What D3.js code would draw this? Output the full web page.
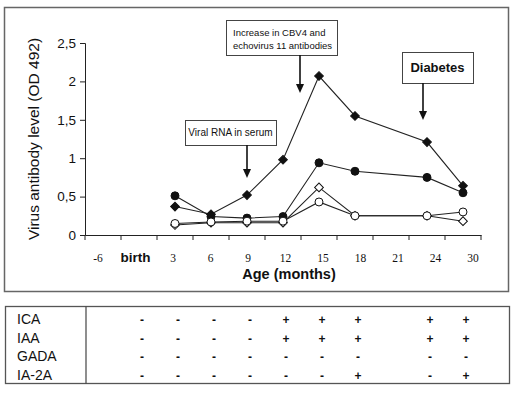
<!DOCTYPE html>
<html><head><meta charset="utf-8">
<script src="https://cdn.jsdelivr.net/npm/d3@7/dist/d3.min.js"></script>
<style>body{margin:0;background:#fff}svg{display:block}</style>
</head><body>
<svg id="c" width="515" height="399"></svg>
<script>
const categories = ["-6","birth","3","6","9","12","15","18","21","24","30"];
const sampleAges = ["3","6","9","12","15","18","24","30"];
const filledDiamond = [0.37,0.27,0.52,0.98,2.07,1.55,1.21,0.64];
const filledCircle  = [0.51,0.24,0.22,0.24,0.94,0.83,0.75,0.55];
const openDiamond   = [0.13,0.16,0.16,0.16,0.62,0.25,0.25,0.18];
const openCircle    = [0.15,0.17,0.18,0.18,0.43,0.25,0.25,0.30];
const yTicks = [0,0.5,1,1.5,2,2.5];
const tableAges = ["birth","3","6","9","12","15","18","24","30"];
const tableRows = ["ICA","IAA","GADA","IA-2A"];
const ICA   = ["-","-","-","-","+","+","+","+","+"];
const IAA   = ["-","-","-","-","+","+","+","+","+"];
const GADA  = ["-","-","-","-","-","-","-","-","-"];
const IA2A  = ["-","-","-","-","-","-","+","-","+"];
const annotations = [
  {age:"9", lines:["Viral RNA in serum"]},
  {age:"15", lines:["Increase in CBV4 and","echovirus 11 antibodies"]},
  {age:"24", lines:["Diabetes"]}
];

const svg = d3.select("#c");
const x = d3.scaleBand().domain(categories).range([85,481]);
const xl = d3.scalePoint().domain(categories).range([98,473]);
const y = d3.scaleLinear().domain([0,2.5]).range([235,43]);
const cx = a => x(a) + x.bandwidth()/2;

// frames
svg.append("rect").attr("x",4.5).attr("y",7.5).attr("width",504).attr("height",284)
  .attr("fill","none").attr("stroke","#666").attr("stroke-width",1.5);
svg.append("rect").attr("x",5.5).attr("y",306.5).attr("width",504).attr("height",77)
  .attr("fill","none").attr("stroke","#555").attr("stroke-width",1.3);
svg.append("line").attr("x1",86).attr("x2",86).attr("y1",306.5).attr("y2",383.5)
  .attr("stroke","#444").attr("stroke-width",1.2);

// y axis
const ya = svg.append("g").attr("transform","translate(85,0)")
  .call(d3.axisLeft(y).tickValues(yTicks).tickSize(5).tickPadding(4)
    .tickFormat(d => String(d).replace(".",",")));
ya.select(".domain").attr("stroke","#222");
ya.selectAll(".tick line").attr("stroke","#222");
ya.selectAll("text").attr("font-family","Liberation Sans, Arial, sans-serif")
  .attr("font-size",13.5).attr("fill","#111");

// x axis
const xa = svg.append("g").attr("transform","translate(0,235)")
  .call(d3.axisBottom(x).tickValues([]).tickSizeOuter(0));
xa.select(".domain").attr("stroke","#222");
svg.append("g").selectAll("line").data(categories.concat(["_end"]))
  .join("line")
  .attr("x1",(d,i)=> i<categories.length ? x(d) : x.range()[1])
  .attr("x2",(d,i)=> i<categories.length ? x(d) : x.range()[1])
  .attr("y1",235).attr("y2",240).attr("stroke","#222");
svg.append("g").selectAll("text").data(categories).join("text")
  .attr("x",d=>xl(d)).attr("y",262).attr("text-anchor","middle")
  .attr("font-family",d=> d==="birth" ? "Liberation Sans, Arial, sans-serif" : "Liberation Serif, Times New Roman, serif")
  .attr("font-weight",d=> d==="birth" ? "bold" : "normal")
  .attr("font-size",d=> d==="birth" ? 13.5 : 11.5)
  .attr("fill","#111").text(d=>d);

// titles
svg.append("text").attr("transform","translate(39,139) rotate(-90)")
  .attr("text-anchor","middle").attr("font-family","Liberation Sans, Arial, sans-serif")
  .attr("font-size",15.5).attr("fill","#111").text("Virus antibody level (OD 492)");
svg.append("text").attr("x",289).attr("y",279).attr("text-anchor","middle")
  .attr("font-family","Liberation Sans, Arial, sans-serif").attr("font-weight","bold")
  .attr("font-size",14.5).attr("fill","#111").text("Age (months)");

// series
const series = [
  {vals:filledDiamond, shape:"diamond", fill:"#111"},
  {vals:filledCircle, shape:"circle", fill:"#111"},
  {vals:openDiamond, shape:"diamond", fill:"#fff"},
  {vals:openCircle, shape:"circle", fill:"#fff"}
];
const line = d3.line().x((d,i)=>cx(sampleAges[i])).y(d=>y(d));
series.forEach(s=>{
  svg.append("path").attr("d",line(s.vals)).attr("fill","none")
    .attr("stroke","#222").attr("stroke-width",1.1);
});
series.forEach(s=>{
  const sym = s.shape==="circle" ? d3.symbol().type(d3.symbolCircle).size(50)
                                 : d3.symbol().type(d3.symbolSquare).size(38);
  svg.append("g").selectAll("path").data(s.vals).join("path")
    .attr("d",sym)
    .attr("transform",(d,i)=>`translate(${cx(sampleAges[i])},${y(d)})` + (s.shape==="diamond" ? " rotate(45)" : ""))
    .attr("fill",s.fill).attr("stroke","#111").attr("stroke-width",1);
});

// annotations
const boxes = [
  {w:91,h:25,top:120,tip:178,size:10,bold:false},
  {w:111,h:35,top:20,tip:93,size:9.5,bold:false},
  {w:71,h:31,top:52,tip:120,size:13,bold:true}
];
annotations.forEach((a,k)=>{
  const b = boxes[k];
  const ax = cx(a.age) + (k===1 ? -19 : (k===2 ? -4 : 0));
  const bx = k===0 ? ax-62 : (k===1 ? ax-74 : ax-21);
  const g = svg.append("g");
  g.append("rect").attr("x",bx+0.5).attr("y",b.top+0.5).attr("width",b.w).attr("height",b.h)
    .attr("fill","#fff").attr("stroke","#444").attr("stroke-width",1);
  a.lines.forEach((t,j)=>{
    g.append("text").attr("x", k===1 ? bx+7 : bx+b.w/2)
      .attr("text-anchor", k===1 ? "start" : "middle")
      .attr("y", b.top + (a.lines.length===1 ? b.h/2 + b.size*0.36 : 16 + j*13))
      .attr("font-family","Liberation Sans Narrow, Arial Narrow, Liberation Sans, sans-serif")
      .attr("font-size",b.size).attr("font-weight",b.bold?"bold":"normal")
      .attr("fill","#111").text(t);
  });
  g.append("line").attr("x1",ax).attr("x2",ax).attr("y1",b.top+b.h).attr("y2",b.tip-7)
    .attr("stroke","#111").attr("stroke-width",1.6);
  g.append("path").attr("d",`M${ax-4},${b.tip-9}L${ax+4},${b.tip-9}L${ax},${b.tip}Z`).attr("fill","#111");
});

// table
const tableData = [ICA,IAA,GADA,IA2A];
const rowY = d3.scalePoint().domain(tableRows).range([324,380]);
svg.append("g").selectAll("text").data(tableRows).join("text")
  .attr("x",17).attr("y",d=>rowY(d)).attr("font-family","Liberation Sans, Arial, sans-serif")
  .attr("font-size",14).attr("fill","#111").text(d=>d);
tableData.forEach((row,r)=>{
  svg.append("g").selectAll("text").data(row).join("text")
    .attr("x",(d,i)=>cx(tableAges[i])+3).attr("y",rowY(tableRows[r]))
    .attr("text-anchor","middle").attr("font-family","Liberation Sans, Arial, sans-serif")
    .attr("font-weight","bold").attr("font-size",12).attr("fill","#111").text(d=>d);
});
</script>
</body></html>
